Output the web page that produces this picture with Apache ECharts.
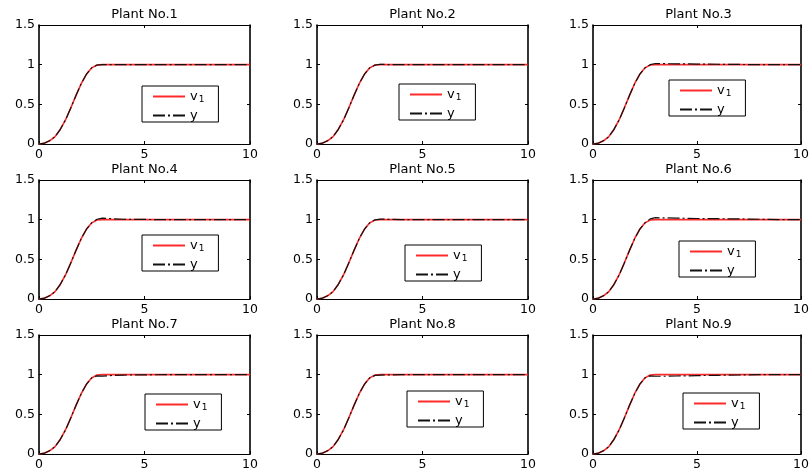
<!DOCTYPE html>
<html>
<head>
<meta charset="utf-8">
<script src="https://cdn.jsdelivr.net/npm/echarts@6/dist/echarts.min.js"></script>
<style>
html,body{margin:0;padding:0;background:#fff;}
#chart{width:812px;height:476px;}
</style>
</head>
<body>
<div id="chart"></div>
<script>
// ---- data ----
const plantTitles = ['Plant No.1','Plant No.2','Plant No.3','Plant No.4','Plant No.5','Plant No.6','Plant No.7','Plant No.8','Plant No.9'];
const xTicks = [0, 5, 10];
const yTicks = [0, 0.5, 1, 1.5];
const t  = [0, 0.25, 0.5, 0.75, 1, 1.25, 1.5, 1.75, 2, 2.25, 2.5, 2.75, 3, 3.5, 4, 5, 6, 7, 8, 9, 10];
const v1 = [0, 0.01, 0.04, 0.09, 0.18, 0.30, 0.45, 0.61, 0.76, 0.88, 0.96, 0.995, 1, 1, 1, 1, 1, 1, 1, 1, 1];
const y1 = [0, 0.01, 0.04, 0.09, 0.18, 0.30, 0.45, 0.61, 0.76, 0.88, 0.96, 0.995, 1, 1, 1, 1, 1, 1, 1, 1, 1];
const y2 = [0, 0.01, 0.04, 0.09, 0.18, 0.30, 0.45, 0.61, 0.76, 0.88, 0.96, 0.995, 1.005, 1, 1, 1, 1, 1, 1, 1, 1];
const y3 = [0, 0.01, 0.04, 0.09, 0.18, 0.30, 0.45, 0.61, 0.76, 0.88, 0.96, 1.0, 1.015, 1.012, 1.01, 1.008, 1.005, 1.003, 1.0, 1, 1];
const y4 = [0, 0.01, 0.04, 0.09, 0.18, 0.30, 0.45, 0.61, 0.76, 0.88, 0.96, 1.005, 1.02, 1.012, 1.005, 1.003, 1.0, 1, 1, 1, 1];
const y5 = [0, 0.01, 0.04, 0.09, 0.18, 0.30, 0.45, 0.61, 0.76, 0.88, 0.96, 0.998, 1.008, 1.003, 1.0, 1, 1, 1, 1, 1, 1];
const y6 = [0, 0.01, 0.04, 0.09, 0.18, 0.30, 0.45, 0.61, 0.76, 0.88, 0.96, 1.01, 1.025, 1.022, 1.02, 1.015, 1.012, 1.01, 1.005, 1.0, 1];
const y7 = [0, 0.01, 0.04, 0.09, 0.18, 0.30, 0.45, 0.61, 0.76, 0.88, 0.96, 0.985, 0.982, 0.99, 0.995, 0.998, 1, 1, 1, 1, 1];
const y8 = [0, 0.01, 0.04, 0.09, 0.18, 0.30, 0.45, 0.61, 0.76, 0.88, 0.96, 0.99, 0.995, 0.998, 1, 1, 1, 1, 1, 1, 1];
const y9 = [0, 0.01, 0.04, 0.09, 0.18, 0.30, 0.45, 0.61, 0.76, 0.88, 0.96, 0.985, 0.98, 0.98, 0.983, 0.988, 0.992, 0.996, 1.0, 1, 1];
const yOutputs = [y1, y2, y3, y4, y5, y6, y7, y8, y9];

// ---- layout (pixels) ----
const colLeft = [39, 317, 593];
const rowTop = [25, 180, 335];
const gw = 211, gh = 119;
const legendBox = [[142,86],[399,84],[669,80],[142,235],[405,245],[679,241],[145,394],[407,391],[683,393]];
const FONT = 'DejaVu Sans';

const grid = [], xAxis = [], yAxis = [], series = [], title = [], legend = [];
const pairs = (xs, ys) => xs.map((x, i) => [x, ys[i]]);

for (let k = 0; k < 9; k++) {
  const r = Math.floor(k / 3), c = k % 3;
  const left = colLeft[c], top = rowTop[r];
  grid.push({ left: left, top: top, width: gw, height: gh, containLabel: false });
  const xBase = { gridIndex: k, type: 'value', min: xTicks[0], max: xTicks[xTicks.length-1], interval: xTicks[1]-xTicks[0],
    splitLine: { show: false }, axisTick: { inside: true, length: 3, lineStyle: { color: '#000' } } };
  xAxis.push(Object.assign({}, xBase, { position: 'bottom',
    axisLine: { onZero: false, lineStyle: { color: '#000', width: 1 } },
    axisLabel: { color: '#000', fontFamily: FONT, fontSize: 12.5, margin: 4 } }));
  xAxis.push(Object.assign({}, xBase, { position: 'top',
    axisLine: { onZero: false, lineStyle: { color: '#000', width: 1 } },
    axisLabel: { show: false } }));
  const yBase = { gridIndex: k, type: 'value', min: yTicks[0], max: yTicks[yTicks.length-1], interval: yTicks[1]-yTicks[0],
    splitLine: { show: false }, axisTick: { inside: true, length: 3, lineStyle: { color: '#000' } } };
  yAxis.push(Object.assign({}, yBase, { position: 'left',
    axisLine: { onZero: false, lineStyle: { color: '#000', width: 1.6 } },
    axisLabel: { color: '#000', fontFamily: FONT, fontSize: 12.5, margin: 4 } }));
  yAxis.push(Object.assign({}, yBase, { position: 'right',
    axisLine: { onZero: false, lineStyle: { color: '#000', width: 1.6 } },
    axisLabel: { show: false } }));

  series.push({ name: 'v1', type: 'line', xAxisIndex: 2*k, yAxisIndex: 2*k, data: pairs(t, v1),
    symbol: 'none', lineStyle: { color: '#ff2a2a', width: 1.6 }, itemStyle: { color: '#ff2a2a' } });
  series.push({ name: 'y', type: 'line', xAxisIndex: 2*k, yAxisIndex: 2*k, data: pairs(t, yOutputs[k]),
    symbol: 'none', lineStyle: { color: '#111', width: 1.2, type: [12, 3, 2, 3] }, itemStyle: { color: '#111' } });

  title.push({ text: plantTitles[k], left: left + gw / 2, top: top - 17, textAlign: 'center', textVerticalAlign: 'top', padding: 0,
    textStyle: { fontFamily: FONT, fontSize: 13, fontWeight: 'normal', color: '#000' } });

  legend.push({ left: legendBox[k][0], top: legendBox[k][1], orient: 'vertical', data: ['v1', 'y'],
    selectedMode: false, itemWidth: 32, itemHeight: 14, itemGap: 5, padding: [3, 14, 0, 10],
    backgroundColor: '#fff', borderColor: '#000', borderWidth: 1, borderRadius: 0,
    itemStyle: { opacity: 0 },
    formatter: name => name === 'v1' ? '{a|v}{b|1}' : '{a|y}',
    textStyle: { color: '#000', fontFamily: FONT, fontSize: 13,
      rich: { a: { fontFamily: FONT, fontSize: 13, lineHeight: 14 },
              b: { fontFamily: FONT, fontSize: 9, lineHeight: 8, padding: [6, 0, 0, 1] } } } });
}

const chart = echarts.init(document.getElementById('chart'));
chart.setOption({ animation: false, backgroundColor: '#fff', title, legend, grid, xAxis, yAxis, series });
</script>
</body>
</html>
